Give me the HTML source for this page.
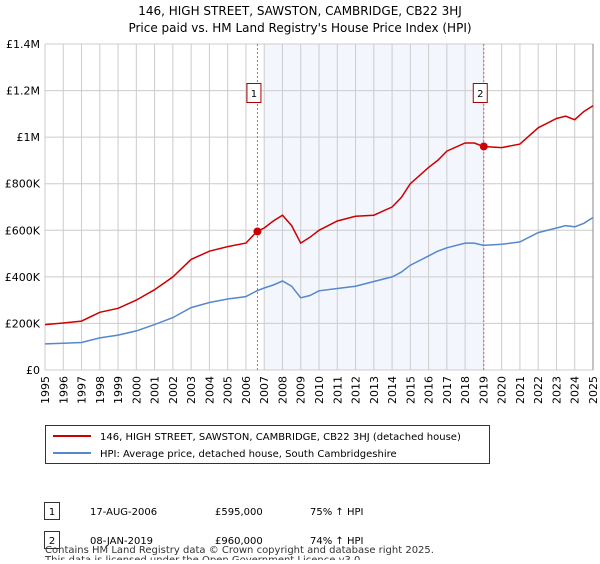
<!DOCTYPE html>
<html><head><meta charset="utf-8"><style>
body{margin:0;background:#fff;font-family:"DejaVu Sans","Liberation Sans",sans-serif;}
svg text{font-family:"DejaVu Sans","Liberation Sans",sans-serif;}
</style></head><body>
<svg id="chart" width="600" height="560">
<text x="300" y="15" text-anchor="middle" font-size="12">146, HIGH STREET, SAWSTON, CAMBRIDGE, CB22 3HJ</text>
<text x="300" y="32" text-anchor="middle" font-size="12">Price paid vs. HM Land Registry's House Price Index (HPI)</text>
<g id="plot"></g>
<g>
<rect x="45.5" y="425.5" width="444" height="38" fill="#fff" stroke="#333"/>
<line x1="53" y1="436" x2="91" y2="436" stroke="#cc0000" stroke-width="2"/>
<text x="100" y="440" font-size="10">146, HIGH STREET, SAWSTON, CAMBRIDGE, CB22 3HJ (detached house)</text>
<line x1="53" y1="453" x2="91" y2="453" stroke="#5588cc" stroke-width="2"/>
<text x="100" y="457" font-size="10">HPI: Average price, detached house, South Cambridgeshire</text>
</g>
<g font-size="10">
<rect x="44.5" y="502.5" width="15" height="17" fill="#fff" stroke="#333"/><text x="52" y="515" text-anchor="middle">1</text>
<text x="90" y="515">17-AUG-2006</text><text x="215" y="515">£595,000</text><text x="310" y="515">75% ↑ HPI</text>
<rect x="44.5" y="531.5" width="15" height="17" fill="#fff" stroke="#333"/><text x="52" y="544" text-anchor="middle">2</text>
<text x="90" y="544">08-JAN-2019</text><text x="215" y="544">£960,000</text><text x="310" y="544">74% ↑ HPI</text>
</g>
<text x="45" y="553" font-size="10" fill="#333">Contains HM Land Registry data © Crown copyright and database right 2025.</text>
<text x="45" y="563" font-size="10" fill="#333">This data is licensed under the Open Government Licence v3.0.</text>
</svg>
<script>
const years=[1995,1996,1997,1998,1999,2000,2001,2002,2003,2004,2005,2006,2006.6,2007,2007.5,2008,2008.5,2009,2009.5,2010,2011,2012,2013,2014,2014.5,2015,2016,2016.5,2017,2018,2018.5,2019,2020,2021,2022,2023,2023.5,2024,2024.5,2025];
const hpiValues=[112,115,118,138,150,168,195,225,268,290,305,315,340,352,365,382,360,310,320,340,350,360,380,400,420,450,490,510,525,545,545,535,540,550,590,610,620,615,630,655];
const priceValues=[195,202,210,248,265,300,345,400,475,510,530,545,595,610,640,665,620,545,570,600,640,660,665,700,740,800,870,900,940,975,975,960,955,970,1040,1080,1090,1075,1110,1135];
const yTicks=[0,200,400,600,800,1000,1200,1400];
const yTickLabels=["£0","£200K","£400K","£600K","£800K","£1M","£1.2M","£1.4M"];
const sales=[{t:2006.63,v:595,label:"1"},{t:2019.02,v:960,label:"2"}];
const X0=45,X1=593,Y0=370,Y1=44;
const xs=t=>X0+(t-1995)/30*(X1-X0);
const ys=v=>Y0-v/1400*(Y0-Y1);
const NS="http://www.w3.org/2000/svg";
const g=document.getElementById('plot');
function mk(tag,attrs){const e=document.createElementNS(NS,tag);for(const k in attrs)e.setAttribute(k,attrs[k]);g.appendChild(e);return e;}
let e=mk('rect',{x:xs(2007),y:Y1,width:xs(2019.02)-xs(2007),height:Y0-Y1,fill:'#f3f6fd'});


for(let y=1995;y<=2025;y++){
 e=mk('line',{x1:xs(y),x2:xs(y),y1:Y1,y2:Y0,stroke:'#ccc'});
 
 
 e=mk('text',{x:0,y:0,'font-size':11,'text-anchor':'end',transform:`translate(${xs(y)+4},${Y0+6}) rotate(-90)`});
 e.textContent=y;
 
 
}
yTicks.forEach((v,i)=>{
 e=mk('line',{x1:X0,x2:X1,y1:ys(v),y2:ys(v),stroke:'#ccc'});
 
 
 e=mk('text',{x:X0-5,y:ys(v)+4,'font-size':11,'text-anchor':'end'});
 e.textContent=yTickLabels[i];
 
 
});
e=mk('line',{x1:X1,x2:X1,y1:Y1,y2:Y0,stroke:'#888'});


sales.forEach(s=>{
 e=mk('line',{x1:xs(s.t),x2:xs(s.t),y1:Y1,y2:Y0,stroke:'#e06070','stroke-dasharray':'2,2'});
 
 
});
function path(vals,color,name){
 const d=years.map((t,i)=>(i?'L':'M')+xs(t).toFixed(1)+','+ys(vals[i]).toFixed(1)).join('');
 const p=mk('path',{d:d,fill:'none',stroke:color,'stroke-width':1.5});
 
 
}
path(hpiValues,'#5588cc','hpi-line');
path(priceValues,'#cc0000','price-line');
sales.forEach(s=>{
 e=mk('circle',{cx:xs(s.t),cy:ys(s.v),r:4,fill:'#cc0000'});
 
 
 e=mk('rect',{x:xs(s.t)-10.5,y:83.5,width:14,height:19,fill:'#fff',stroke:'#aa0000'});
 
 
 e=mk('text',{x:xs(s.t)-3.5,y:97,'font-size':10,'text-anchor':'middle'});
 e.textContent=s.label;
 
 
});
</script>
</body></html>
